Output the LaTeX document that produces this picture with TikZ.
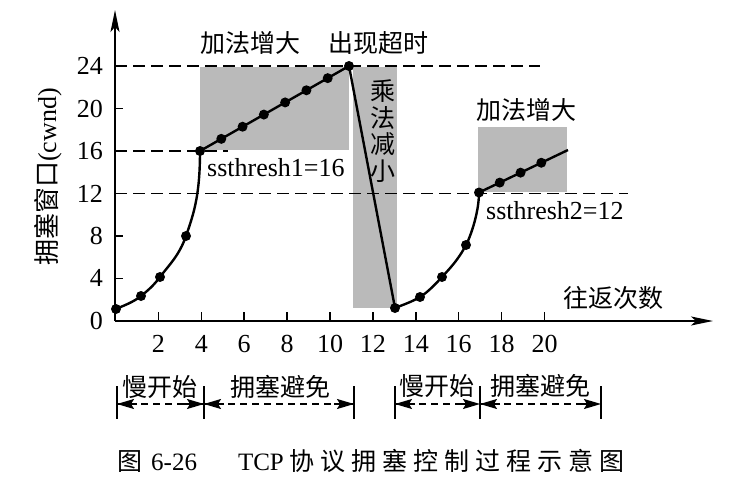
\documentclass[tikz,border=0pt]{standalone}
\usepackage{fontspec}
\setmainfont{Liberation Serif}
\newfontfamily\cjk{Noto Sans CJK SC}
\usetikzlibrary{arrows.meta,calc}
\definecolor{shade}{RGB}{186,186,186}
\newcommand\capsp{\hspace{6pt}}
\begin{document}
\begin{tikzpicture}[x=1pt,y=-1pt,
  band/.style={fill=shade,draw=none},
  guide/.style={line width=1.6pt,dash pattern=on 12pt off 6pt},
  axisline/.style={line width=1.7pt,-{Stealth[length=22pt,width=9pt,inset=5pt]}},
  tickmark/.style={line width=1.5pt},
  curveline/.style={line width=2.4pt},
  dot/.style={circle,fill=black,inner sep=0pt,minimum size=10pt},
  lab/.style={font=\fontsize{26}{30}\selectfont,inner sep=0pt},
  cjklab/.style={font=\cjk\fontsize{25}{26.5}\selectfont,inner sep=0pt},
  spanline/.style={line width=1.3pt,dash pattern=on 7pt off 5pt},
  spantip/.style={solid,line width=1.6pt,-{Stealth[length=17pt,width=10pt,inset=3pt]}},
  barline/.style={line width=1.1pt}]
\useasboundingbox (0,0) rectangle (756,495);

% shaded bands
\fill[band] (200,67) rectangle (349,150);
\fill[band] (353,67) rectangle (397,308);
\fill[band] (478,127) rectangle (567,192);

% axes
\coordinate (O) at (115,321);
\coordinate (xend) at (713,321);
\coordinate (yend) at (115,10);

% guide lines
\coordinate (g24a) at (115,66.3);  \coordinate (g24b) at (540,66.3);
\coordinate (g16a) at (115,151.1); \coordinate (g16b) at (228,151.1);
\coordinate (g12a) at (115,193.5); \coordinate (g12b) at (628,193.5);
\draw[guide] (g24a) -- (g24b);
\draw[guide] (g16a) -- (g16b);
\draw[guide] (g12a) -- (g12b);

\draw[axisline] (O) -- (xend);
\draw[axisline] (O) -- (yend);

% y ticks and labels
\node[lab,anchor=east] (yl0) at (103,321) {0};
\foreach \v in {4,8,...,24}{
  \coordinate (yt\v) at (115,{320.7-10.6*\v});
  \draw[tickmark] (yt\v) -- ++(8,0);
  \node[lab,anchor=east] (yl\v) at (103,{320.7-10.6*\v}) {\v};
}
% x ticks and labels
\foreach \t in {2,4,...,20}{
  \coordinate (xt\t) at ({115.5+21.45*\t},321);
  \draw[tickmark] (xt\t) -- ++(0,-9);
  \node[lab] (xl\t) at ({115.5+21.45*\t},344) {\t};
}

% first slow start
\node[dot] (a0) at (116,309) {};
\node[dot] (a1) at (141,296) {};
\node[dot] (a2) at (160,277) {};
\node[dot] (a3) at (186,236) {};
\node[dot] (a4) at (200,151) {};
\draw[curveline] (a0.center) .. controls (124,305.4) and (133,302.4) .. (a1.center)
  .. controls (147.3,291) and (153.7,285.5) .. (a2.center)
  .. controls (168.7,265.3) and (179,256) .. (a3.center)
  .. controls (194,213) and (200,195) .. (a4.center);

% first congestion avoidance
\node[dot] (pk) at (349,66) {};
\foreach \i in {1,...,6}{
  \node[dot] (l\i) at ($(a4)!\i/7!(pk)$) {};
}
\node[dot] (b0) at (395,308) {};
\draw[curveline] (a4.center) -- (pk.center) -- (b0.center);

% second slow start
\node[dot] (b1) at (420,297) {};
\node[dot] (b2) at (442,277) {};
\node[dot] (b3) at (466,245) {};
\node[dot] (b4) at (479,192.5) {};
\draw[curveline] (b0.center) .. controls (403,304.8) and (412,301.8) .. (b1.center)
  .. controls (427,292.8) and (435,284.7) .. (b2.center)
  .. controls (450,268.2) and (458,260.2) .. (b3.center)
  .. controls (471,235.5) and (479,212) .. (b4.center);

% second congestion avoidance
\coordinate (e2) at (568,150);
\draw[curveline] (b4.center) -- (e2);
\node[dot] (m1) at ($(b4)!0.233!(e2)$) {};
\node[dot] (m2) at ($(b4)!0.467!(e2)$) {};
\node[dot] (m3) at ($(b4)!0.70!(e2)$) {};

% labels
\node[cjklab] (t1) at (250,43) {加法增大};
\node[cjklab] (t2) at (378.5,43) {出现超时};
\node[cjklab,align=center] (t3) at (383,131) {乘\\法\\减\\小};
\node[cjklab] (t4) at (526,110) {加法增大};
\node[lab,anchor=west] (s1) at (207,168) {ssthresh1=16};
\node[lab,anchor=west] (s2) at (486,211) {ssthresh2=12};
\node[cjklab] (t5) at (613.5,298) {往返次数};
\node[lab,rotate=90,font=\fontsize{26}{30}\selectfont] (ylab) at (48,177) {{\cjk 拥塞窗口}(cwnd)};

% phase spans
\foreach \k/\x in {1/117,2/204,3/354,4/395,5/480,6/601}{
  \coordinate (p\k) at (\x,404);
  \draw[barline] ($(p\k)+(0,-18)$) -- ($(p\k)+(0,15)$);
}
\draw[spanline] (p1) -- (p2);
\draw[spanline] (p2) -- (p3);
\draw[spanline] (p4) -- (p5);
\draw[spanline] (p5) -- (p6);
\foreach \a/\b in {1/2,2/3,4/5,5/6}{
  \draw[spantip] ($(p\a)+(20,0)$) -- (p\a);
  \draw[spantip] ($(p\b)+(-20,0)$) -- (p\b);
}
\node[cjklab] (ph1) at (160,387) {慢开始};
\node[cjklab] (ph2) at (280,387) {拥塞避免};
\node[cjklab] (ph3) at (437,386) {慢开始};
\node[cjklab] (ph4) at (540,386) {拥塞避免};

% caption
\node[lab,anchor=west,font=\fontsize{25}{30}\selectfont] (cap) at (117,461) {{\cjk 图}\hspace{9pt}6-26\hspace{41pt}TCP\capsp{\cjk 协\capsp 议\capsp 拥\capsp 塞\capsp 控\capsp 制\capsp 过\capsp 程\capsp 示\capsp 意\capsp 图}};
\end{tikzpicture}
\end{document}
